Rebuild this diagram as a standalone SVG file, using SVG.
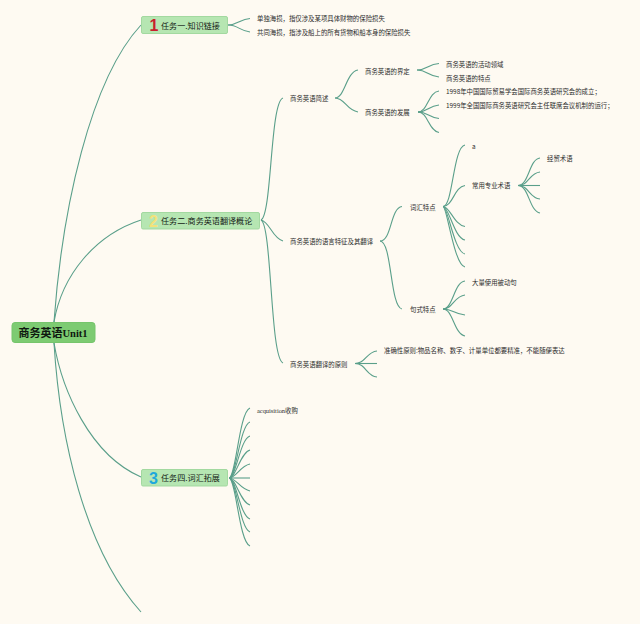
<svg xmlns="http://www.w3.org/2000/svg" width="640" height="624" viewBox="0 0 640 624">
<style>
text{font-family:"Noto Sans CJK SC","Liberation Sans",sans-serif;fill:#2b2b2b}
.s{font-size:6.4px}
.t{font-size:8.100px;fill:#142014}
.box{fill:#b6e6b2;stroke:#a3d9a0;stroke-width:1}
.num{font-family:"Liberation Sans",sans-serif;font-weight:bold;font-size:16px}
#connectors path{fill:none;stroke:#5a9f8a;stroke-width:1.100}
</style>
<rect width="640" height="624" fill="#fefaf2"/>
<g id="connectors">
<path d="M54 322C62 210 90 80 141 25"/>
<path d="M54 322C62 275 95 235 141 220"/>
<path d="M54 343C62 390 90 455 141 477"/>
<path d="M54 343C60 440 85 550 141 612"/>
<path d="M228 25C238 25 240 19 250 18.500"/>
<path d="M228 25C238 25 240 31 250 32"/>
<path d="M261 220C272 215 270 102 283 98"/>
<path d="M261 220C270 222 272 238 283 241"/>
<path d="M261 220C272 225 270 358 283 363"/>
<path d="M335 98C345 98 346 72 358 70"/>
<path d="M335 98C345 98 346 110 358 112"/>
<path d="M417 70C427 70 428 64 439 63.500"/>
<path d="M417 70C427 70 428 76 439 77"/>
<path d="M418 112C428 112 428 92 439 91"/>
<path d="M418 112C428 112 428 106 439 105"/>
<path d="M418 112C428 112 428 117 439 118.500"/>
<path d="M418 112C428 112 428 130 439 132.500"/>
<path d="M380 241C392 241 390 208 402 206.500"/>
<path d="M380 241C392 241 390 307 402 309"/>
<path d="M443 206.500C453 206.500 453 147 465 145"/>
<path d="M443 206.500C453 206.500 454 187 465 185.500"/>
<path d="M443 206.500C450 206.500 454 225 465 226.500"/>
<path d="M443 206.500C449 206.500 454 238 465 240"/>
<path d="M443 206.500C448 206.500 454 252 465 254"/>
<path d="M443 206.500C447 206.500 454 265 465 267"/>
<path d="M443 309C453 309 454 282 465 281"/>
<path d="M443 309C453 309 454 296 465 295"/>
<path d="M443 309C453 309 454 314 465 315"/>
<path d="M443 309C453 309 454 334 465 336"/>
<path d="M518 185.500C529 185.500 529 159 540 158"/>
<path d="M518 185.500C529 185.500 529 173 540 172"/>
<path d="M518 185.500L540 185.500"/>
<path d="M518 185.500C529 185.500 529 198 540 199"/>
<path d="M518 185.500C529 185.500 529 211 540 213"/>
<path d="M355 363.500C366 363.500 366 352 377 351"/>
<path d="M355 363.500L377 363.500"/>
<path d="M355 363.500C366 363.500 366 376 377 377"/>
<path d="M229 478C236 478 239 412 250 408"/>
<path d="M229 478C236 478 240 425 250 422"/>
<path d="M229 478C236 478 240 439 250 436"/>
<path d="M229 478C236 478 240 453 250 450"/>
<path d="M229 478C236 478 240 466 250 464"/>
<path d="M229 478L250 478"/>
<path d="M229 478C236 478 240 489 250 491"/>
<path d="M229 478C236 478 240 502 250 505"/>
<path d="M229 478C236 478 240 516 250 519"/>
<path d="M229 478C236 478 240 529 250 532"/>
<path d="M229 478C236 478 239 542 250 546"/>
</g>
<g id="root"><rect x="12" y="322.500" width="83" height="20" rx="3" fill="#7dcb72" stroke="#76c56c"/><text x="18.500" y="337" font-size="11" font-weight="bold" style="fill:#101810">商务英语<tspan font-family="Liberation Serif" font-size="10.500">Unit1</tspan></text></g>
<g id="task1"><rect class="box" x="141.500" y="16.500" width="86" height="17" rx="1.500"/><text class="num" x="149.500" y="31" style="fill:#c8202c">1</text><text class="t" x="161" y="28.500">任务一.知识链接</text></g>
<g id="task2"><rect class="box" x="141.500" y="212.500" width="118" height="16.500" rx="1.500"/><text class="num" x="149" y="226.500" style="fill:#f3e27a">2</text><text class="t" x="161" y="224">任务二.商务英语翻译概论</text></g>
<g id="task3"><rect class="box" x="141.500" y="469.500" width="86" height="16.500" rx="1.500"/><text class="num" x="149" y="483.500" style="fill:#1ea8dc">3</text><text class="t" x="161" y="481">任务四.词汇拓展</text></g>
<g id="n1"><text class="s" x="257" y="21">单独海损，指仅涉及某项具体财物的保险损失</text></g>
<g id="n2"><text class="s" x="257" y="34.500">共同海损，指涉及船上的所有货物和船本身的保险损失</text></g>
<g id="n3"><text class="s" x="290" y="101">商务英语简述</text></g>
<g id="n4"><text class="s" x="365" y="73.500">商务英语的界定</text></g>
<g id="n5"><text class="s" x="365" y="114.500">商务英语的发展</text></g>
<g id="n6"><text class="s" x="446" y="67">商务英语的活动领域</text></g>
<g id="n7"><text class="s" x="446" y="80.500">商务英语的特点</text></g>
<g id="n8"><text class="s" x="446" y="94">1998年中国国际贸易学会国际商务英语研究会的成立；</text></g>
<g id="n9"><text class="s" x="446" y="107.500">1999年全国国际商务英语研究会主任联席会议机制的运行；</text></g>
<g id="n10"><text class="s" x="290" y="244">商务英语的语言特征及其翻译</text></g>
<g id="n11"><text class="s" x="410" y="209.500">词汇特点</text></g>
<g id="n12"><text class="s" x="410" y="311.500">句式特点</text></g>
<g id="n13"><text class="s" x="472" y="148.500">a</text></g>
<g id="n14"><text class="s" x="472" y="188">常用专业术语</text></g>
<g id="n15"><text class="s" x="547" y="161">经贸术语</text></g>
<g id="n16"><text class="s" x="472" y="284.500">大量使用被动句</text></g>
<g id="n17"><text class="s" x="290" y="366.500">商务英语翻译的原则</text></g>
<g id="n18"><text class="s" x="384" y="353">准确性原则:物品名称、数字、计量单位都要精准，不能随便表达</text></g>
<g id="n19"><text class="s" x="257" y="412.500"><tspan font-family="Liberation Serif" font-size="6.400">acquisition</tspan>收购</text></g>
</svg>
